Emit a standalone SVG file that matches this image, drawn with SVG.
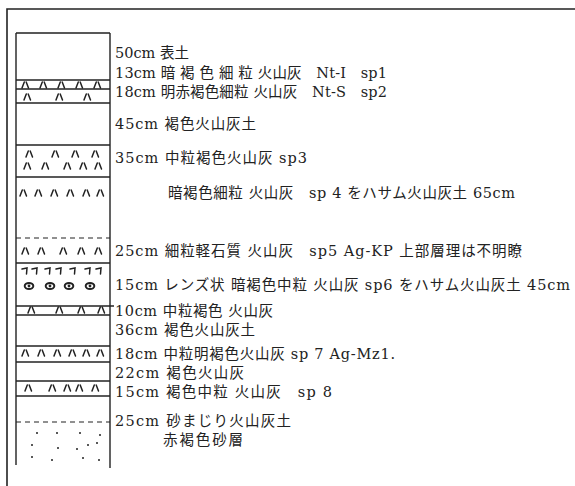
<svg xmlns="http://www.w3.org/2000/svg" width="575" height="486" viewBox="0 0 575 486">
  <style>
    .frame { fill: none; stroke: #222; stroke-width: 1.6; }
    .col { fill: none; stroke: #222; stroke-width: 1.4; }
    .bd { stroke: #222; stroke-width: 1.4; fill: none; }
    .dash { stroke: #222; stroke-width: 1.2; stroke-dasharray: 5 4; fill: none; }
    .mk { stroke: #222; stroke-width: 1.5; fill: none; stroke-linecap: round; }
    .lbl { font-family: "DejaVu Serif", "Noto Sans CJK JP", serif; font-size: 14.5px; fill: #222; }
  </style>
  <defs>
    <!-- volcanic ash mark -->
    <path id="ha" class="mk" d="M0,6 L2.3,0 M4.2,0 L6.5,6"/>
    <!-- pumice hook mark -->
    <path id="hook" class="mk" d="M0,1 L5,0 L4.5,6"/>
    <!-- lens mark -->
    <g id="lens">
      <ellipse cx="0" cy="0" rx="4.3" ry="3" fill="none" stroke="#222" stroke-width="2"/>
      <circle cx="0" cy="0" r="1.4" fill="#222"/>
    </g>
  </defs>

  <!-- outer frame -->
  <path class="frame" d="M575,9 L7,9 L7,486"/>

  <!-- stratigraphic column -->
  <g id="column">
    <path class="col" d="M16,33 L110,33 M16,33 L16,465 M110,33 L110,468"/>
  </g>

  <g id="boundaries">
    <line class="bd" x1="16" y1="80" x2="110" y2="80"/>
    <line class="bd" x1="16" y1="89" x2="110" y2="89"/>
    <line class="bd" x1="16" y1="103" x2="110" y2="103"/>
    <line class="bd" x1="16" y1="145" x2="110" y2="145"/>
    <line class="bd" x1="16" y1="177" x2="110" y2="177"/>
    <line class="dash" x1="16" y1="238" x2="110" y2="238"/>
    <line class="bd" x1="16" y1="263" x2="110" y2="263"/>
    <line class="bd" x1="16" y1="306" x2="114" y2="306"/>
    <line class="bd" x1="16" y1="315" x2="110" y2="315"/>
    <line class="bd" x1="16" y1="346" x2="110" y2="346"/>
    <line class="bd" x1="16" y1="362" x2="110" y2="362"/>
    <line class="bd" x1="16" y1="381" x2="110" y2="381"/>
    <line class="bd" x1="16" y1="396" x2="110" y2="396"/>
    <line class="dash" x1="16" y1="422" x2="110" y2="422"/>
  </g>

  <g id="layer-13cm">
    <use href="#ha" x="22" y="82"/><use href="#ha" x="40" y="82"/><use href="#ha" x="58" y="82"/><use href="#ha" x="76" y="82"/><use href="#ha" x="94" y="82"/>
  </g>
  <g id="layer-18cm-a">
    <use href="#ha" x="24" y="94"/><use href="#ha" x="56" y="94"/><use href="#ha" x="84" y="94"/>
  </g>
  <g id="layer-35cm">
    <use href="#ha" x="26" y="151"/><use href="#ha" x="52" y="151"/><use href="#ha" x="72" y="151"/><use href="#ha" x="92" y="151"/>
    <use href="#ha" x="24" y="163"/><use href="#ha" x="42" y="163"/><use href="#ha" x="64" y="163"/><use href="#ha" x="80" y="163"/><use href="#ha" x="95" y="163"/>
  </g>
  <g id="layer-65cm">
    <use href="#ha" x="20" y="190"/><use href="#ha" x="35" y="190"/><use href="#ha" x="51" y="190"/><use href="#ha" x="67" y="190"/><use href="#ha" x="83" y="190"/><use href="#ha" x="97" y="190"/>
  </g>
  <g id="layer-25cm-a">
    <use href="#ha" x="22" y="248"/><use href="#ha" x="38" y="248"/><use href="#ha" x="60" y="248"/><use href="#ha" x="78" y="248"/><use href="#ha" x="95" y="248"/>
  </g>
  <g id="layer-15cm-lens">
    <use href="#hook" x="22" y="268"/><use href="#hook" x="32" y="268"/><use href="#hook" x="45" y="268"/><use href="#hook" x="56" y="268"/><use href="#hook" x="70" y="268"/><use href="#hook" x="85" y="268"/><use href="#hook" x="96" y="268"/>
    <use href="#lens" x="29" y="286"/><use href="#lens" x="50" y="286"/><use href="#lens" x="69" y="286"/><use href="#lens" x="90" y="286"/>
  </g>
  <g id="layer-10cm">
    <use href="#ha" x="28" y="307"/><use href="#ha" x="56" y="307"/><use href="#ha" x="78" y="307"/><use href="#ha" x="98" y="307"/>
  </g>
  <g id="layer-18cm-b">
    <use href="#ha" x="22" y="350"/><use href="#ha" x="38" y="350"/><use href="#ha" x="54" y="350"/><use href="#ha" x="69" y="350"/><use href="#ha" x="83" y="350"/><use href="#ha" x="97" y="350"/>
  </g>
  <g id="layer-15cm-b">
    <use href="#ha" x="25" y="385"/><use href="#ha" x="49" y="385"/><use href="#ha" x="64" y="385"/><use href="#ha" x="76" y="385"/><use href="#ha" x="92" y="385"/>
  </g>
  <g id="layer-sand" fill="#222">
    <circle cx="37" cy="433" r="1"/><circle cx="57" cy="433" r="1"/><circle cx="80" cy="433" r="1"/><circle cx="100" cy="435" r="1"/>
    <circle cx="32" cy="445" r="1"/><circle cx="58" cy="448" r="1"/><circle cx="77" cy="449" r="1"/><circle cx="88" cy="445" r="1"/><circle cx="97" cy="443" r="1"/>
    <circle cx="32" cy="457" r="1"/><circle cx="52" cy="460" r="1"/><circle cx="83" cy="458" r="1"/><circle cx="99" cy="460" r="1"/>
  </g>

  <g id="labels" class="lbl">
    <text x="115" y="58">50cm 表土</text>
    <text x="115" y="78" textLength="272" lengthAdjust="spacing">13cm 暗 褐 色 細 粒 火山灰　Nt-I　sp1</text>
    <text x="115" y="97" textLength="272" lengthAdjust="spacing">18cm 明赤褐色細粒 火山灰　Nt-S　sp2</text>
    <text x="115" y="129" textLength="141" lengthAdjust="spacing">45cm 褐色火山灰土</text>
    <text x="115" y="163" textLength="192" lengthAdjust="spacing">35cm 中粒褐色火山灰 sp3</text>
    <text x="168" y="198" textLength="347" lengthAdjust="spacing">暗褐色細粒 火山灰　sp 4 をハサム火山灰土 65cm</text>
    <text x="115" y="256" textLength="407" lengthAdjust="spacing">25cm 細粒軽石質 火山灰　sp5 Ag-KP 上部層理は不明瞭</text>
    <text x="115" y="290" textLength="455" lengthAdjust="spacing">15cm レンズ状 暗褐色中粒 火山灰 sp6 をハサム火山灰土 45cm</text>
    <text x="115" y="316" textLength="158" lengthAdjust="spacing">10cm 中粒褐色 火山灰</text>
    <text x="115" y="335" textLength="140" lengthAdjust="spacing">36cm 褐色火山灰土</text>
    <text x="115" y="359" textLength="280" lengthAdjust="spacing">18cm 中粒明褐色火山灰 sp 7 Ag-Mz1.</text>
    <text x="115" y="378" textLength="129" lengthAdjust="spacing">22cm 褐色火山灰</text>
    <text x="115" y="397" textLength="217" lengthAdjust="spacing">15cm 褐色中粒 火山灰　sp 8</text>
    <text x="115" y="426" textLength="176" lengthAdjust="spacing">25cm 砂まじり火山灰土</text>
    <text x="163" y="445" textLength="80" lengthAdjust="spacing">赤褐色砂層</text>
  </g>
</svg>
